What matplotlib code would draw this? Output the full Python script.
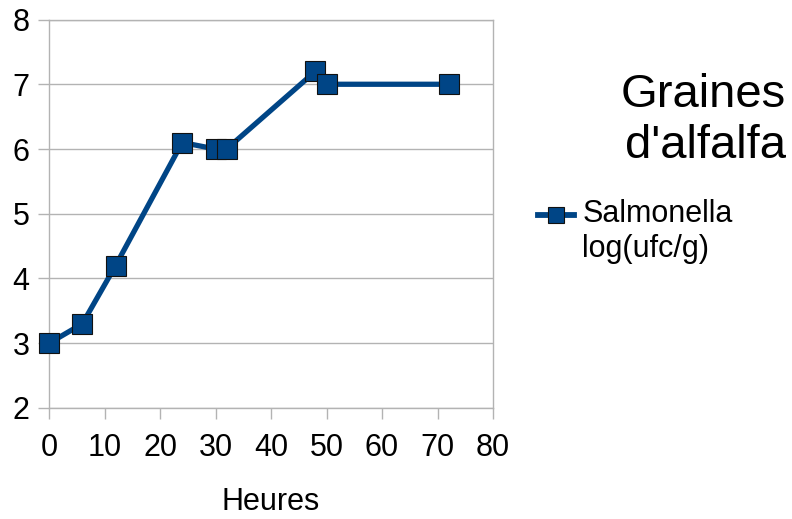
import matplotlib.pyplot as plt
from matplotlib.lines import Line2D
from matplotlib.legend_handler import HandlerLine2D

plt.rcParams['font.family'] = ['Liberation Sans', 'DejaVu Sans']

heures = [0, 6, 12, 24, 30, 32, 48, 50, 72]
salmonella = [3.0, 3.3, 4.2, 6.1, 6.0, 6.0, 7.2, 7.0, 7.0]
x_ticks = [0, 10, 20, 30, 40, 50, 60, 70, 80]
y_ticks = [2, 3, 4, 5, 6, 7, 8]

blue = '#004586'
grey = '#b3b3b3'


# legend handle sits next to the first line of the label, not in the middle
class TopHandler(HandlerLine2D):
    def create_artists(self, legend, orig_handle, xdescent, ydescent,
                       width, height, fontsize, trans):
        artists = super().create_artists(legend, orig_handle, xdescent, ydescent,
                                         width, height, fontsize, trans)
        for a in artists:
            a.set_ydata([y + 0.55 * fontsize for y in a.get_ydata()])
        return artists


fig = plt.figure(figsize=(7.92, 5.19), dpi=100)
ax = fig.add_axes([0.0619, 0.2139, 0.5606, 0.7485])

ax.plot(heures, salmonella, color=blue, linewidth=3.8, marker='s',
        markersize=14, markerfacecolor=blue, markeredgecolor='#111111',
        markeredgewidth=0.8, clip_on=False, zorder=3)

ax.set_xlim(0, 80)
ax.set_ylim(2, 8)
ax.set_xticks(x_ticks)
ax.set_yticks(y_ticks)
ax.grid(axis='y', color=grey, linewidth=1)
ax.set_axisbelow(True)
for s in ax.spines.values():
    s.set_color(grey)
    s.set_linewidth(1)
ax.tick_params(axis='both', labelsize=22, length=8, color=grey, width=1)
ax.tick_params(axis='x', pad=10)
ax.tick_params(axis='y', pad=6)
ax.set_xlabel('Heures', fontsize=22, labelpad=17)

fig.text(0.992, 0.6956, "Graines\nd'alfalfa", fontsize=34, ha='right', va='baseline',
         linespacing=1.22)

handle = Line2D([], [], color=blue, linewidth=4.2, marker='s', markersize=12,
                markerfacecolor=blue, markeredgecolor='#111111', markeredgewidth=0.8)
fig.legend([handle], ['Salmonella\nlog(ufc/g)'], loc='upper left',
           bbox_to_anchor=(0.679, 0.6166), frameon=False, fontsize=22,
           handlelength=1.2, handletextpad=0.26, borderaxespad=0, borderpad=0,
           handler_map={Line2D: TopHandler()})

fig.savefig('out.png', dpi=100)
